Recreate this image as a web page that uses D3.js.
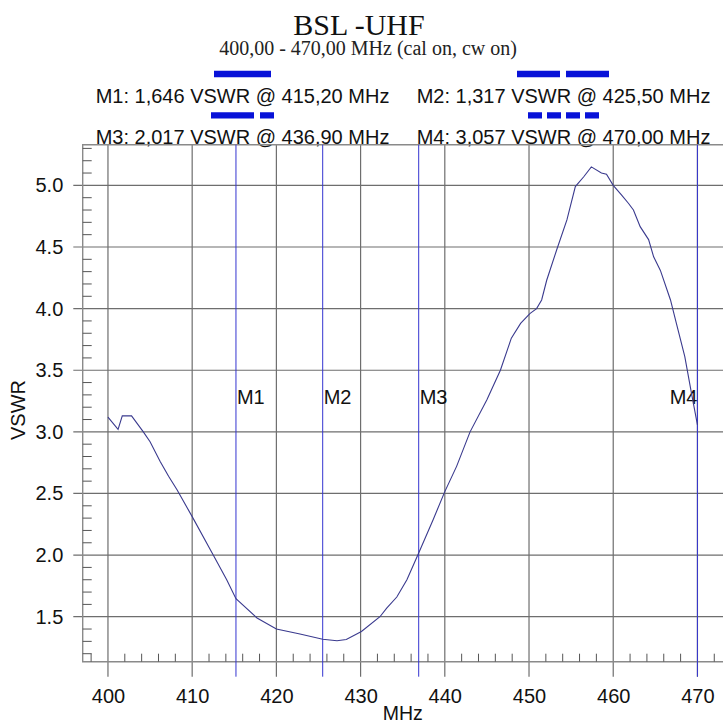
<!DOCTYPE html>
<html>
<head>
<meta charset="utf-8">
<script src="https://cdn.jsdelivr.net/npm/d3@7/dist/d3.min.js"></script>
<style>
  body { margin: 0; background: #fff; }
  svg { display: block; }
</style>
</head>
<body>
<div id="chart"></div>
<script>
// Measured trace (MHz / VSWR)
const freqs = [400.0, 401.2, 401.7, 402.8, 404.2, 405.0, 406.2, 407.2, 408.2, 410.1,
  412.5, 414.1, 415.2, 417.7, 420.0, 422.8, 425.5, 427.2, 428.3, 430.1,
  432.3, 433.1, 434.3, 435.5, 436.9, 438.6, 440.0, 441.4, 443.0, 445.0,
  446.6, 447.9, 449.0, 450.1, 450.9, 451.5, 452.1, 453.3, 454.5, 455.5,
  456.5, 457.4, 458.6, 459.2, 460.0, 461.0, 461.8, 462.4, 463.2, 464.2,
  464.8, 465.6, 466.8, 467.5, 468.5, 469.3, 470.0];
const vswr = [3.12, 3.02, 3.13, 3.13, 3.00, 2.92, 2.76, 2.64, 2.53, 2.30,
  2.00, 1.80, 1.646, 1.49, 1.40, 1.36, 1.317, 1.305, 1.315, 1.38,
  1.50, 1.57, 1.66, 1.80, 2.017, 2.285, 2.515, 2.72, 3.00, 3.26,
  3.50, 3.76, 3.88, 3.96, 4.00, 4.07, 4.23, 4.48, 4.72, 4.99,
  5.07, 5.15, 5.10, 5.09, 5.00, 4.92, 4.855, 4.80, 4.665, 4.56,
  4.42, 4.31, 4.07, 3.88, 3.61, 3.31, 3.057];

// Markers
const markerNames = ["M1", "M2", "M3", "M4"];
const markerFreqs = [415.20, 425.50, 436.90, 470.00];
const markerValues = [1.646, 1.317, 2.017, 3.057];

// Tick labels
const xTicks = [400, 410, 420, 430, 440, 450, 460, 470];
const yTicks = [1.5, 2.0, 2.5, 3.0, 3.5, 4.0, 4.5, 5.0];

const titleText = "BSL -UHF";
const subtitleText = "400,00 - 470,00 MHz (cal on, cw on)";

// Layout
const W = 723, H = 724;
const plot = { left: 82.7, right: 722.7, top: 144.7, bottom: 661.7 };
const gridColor = "#6e6e6e";
const markerBlue = "#3434d0";
const swatchBlue = "#0812d8";
const sans = "'Liberation Sans', Arial, sans-serif";
const serif = "'Liberation Serif', 'Times New Roman', serif";

// legend swatch styles, one per marker
const swatchStyle = [
  { width: 57, dash: null },
  { width: 93, dash: "43,6" },
  { width: 63, dash: "43,6,14,6" },
  { width: 71, dash: "14,5" }
];

const svg = d3.select("#chart").append("svg")
  .attr("width", W)
  .attr("height", H)
  .attr("viewBox", `0 0 ${W} ${H}`);

const x = d3.scaleLinear().domain([397, 473]).range([plot.left, plot.right]);
const y = d3.scaleLinear().domain([1.135, 5.33]).range([plot.bottom, plot.top]);

// Title block
svg.append("text")
  .attr("x", 359).attr("y", 35)
  .attr("text-anchor", "middle")
  .style("font-family", serif).style("font-size", "30px")
  .style("fill", "#111")
  .text(titleText);

svg.append("text")
  .attr("x", 368).attr("y", 55)
  .attr("text-anchor", "middle")
  .style("font-family", serif).style("font-size", "20px")
  .style("fill", "#222")
  .text(subtitleText);

// Legend (two columns x two rows)
const comma = s => s.replace(".", ",");
const colCenters = [242.5, 563.5];
const rowBase = [102.7, 143.5];
const rowSwatch = [74, 115.3];

markerNames.forEach((name, i) => {
  const cx = colCenters[i % 2];
  const row = Math.floor(i / 2);
  const sw = swatchStyle[i];
  svg.append("line")
    .attr("x1", cx - sw.width / 2).attr("x2", cx + sw.width / 2)
    .attr("y1", rowSwatch[row]).attr("y2", rowSwatch[row])
    .attr("stroke", swatchBlue)
    .attr("stroke-width", 6.3)
    .attr("stroke-dasharray", sw.dash);
  svg.append("text")
    .attr("x", cx).attr("y", rowBase[row])
    .attr("text-anchor", "middle")
    .style("font-family", sans).style("font-size", "20px")
    .style("fill", "#111")
    .text(`${name}: ${comma(d3.format(".3f")(markerValues[i]))} VSWR @ ${comma(d3.format(".2f")(markerFreqs[i]))} MHz`);
});

// Grid lines
svg.append("g").selectAll("line")
  .data(yTicks).join("line")
  .attr("x1", plot.left - 9.4).attr("x2", plot.right + 1)
  .attr("y1", d => y(d)).attr("y2", d => y(d))
  .attr("stroke", gridColor).attr("stroke-width", 1.2);

svg.append("g").selectAll("line")
  .data(xTicks).join("line")
  .attr("x1", d => x(d)).attr("x2", d => x(d))
  .attr("y1", plot.top).attr("y2", plot.bottom + 15)
  .attr("stroke", gridColor).attr("stroke-width", 1.2);

// Frame: top, left, bottom
svg.append("path")
  .attr("d", `M${plot.right + 1},${plot.top}H${plot.left}V${plot.bottom}H${plot.right + 1}`)
  .attr("fill", "none")
  .attr("stroke", "#8a8a8a")
  .attr("stroke-width", 1.4);

// Minor ticks
const xMinor = d3.range(398, 473, 2).filter(v => v % 10 !== 0);
svg.append("g").selectAll("line")
  .data(xMinor).join("line")
  .attr("x1", d => x(d)).attr("x2", d => x(d))
  .attr("y1", plot.bottom).attr("y2", plot.bottom - 8)
  .attr("stroke", "#555").attr("stroke-width", 1);

const yMinor = d3.range(12, 54).filter(v => v % 5 !== 0).map(v => v / 10);
svg.append("g").selectAll("line")
  .data(yMinor).join("line")
  .attr("x1", plot.left).attr("x2", plot.left + 9)
  .attr("y1", d => y(d)).attr("y2", d => y(d))
  .attr("stroke", "#555").attr("stroke-width", 1);

// Axis labels via d3 axes (lines hidden, grid drawn above)
const xAxis = svg.append("g")
  .attr("transform", `translate(0,${plot.bottom})`)
  .call(d3.axisBottom(x).tickValues(xTicks).tickFormat(d3.format("d")).tickSize(15).tickPadding(12));
xAxis.select(".domain").remove();
xAxis.selectAll("line").remove();
xAxis.selectAll("text")
  .style("font-family", sans).style("font-size", "20px").style("fill", "#111");

const yAxis = svg.append("g")
  .attr("transform", `translate(${plot.left},0)`)
  .call(d3.axisLeft(y).tickValues(yTicks).tickFormat(d3.format(".1f")).tickSize(9.4).tickPadding(10));
yAxis.select(".domain").remove();
yAxis.selectAll("line").remove();
yAxis.selectAll("text")
  .style("font-family", sans).style("font-size", "20px").style("fill", "#111");

svg.append("text")
  .attr("x", (plot.left + plot.right) / 2).attr("y", 720)
  .attr("text-anchor", "middle")
  .style("font-family", sans).style("font-size", "19.5px").style("fill", "#111")
  .text("MHz");

svg.append("text")
  .attr("transform", "translate(25,410) rotate(-90)")
  .attr("text-anchor", "middle")
  .style("font-family", sans).style("font-size", "20px").style("fill", "#111")
  .text("VSWR");

// Marker lines and labels
markerFreqs.forEach((f, i) => {
  const mx = x(f);
  svg.append("line")
    .attr("x1", mx).attr("x2", mx)
    .attr("y1", plot.top).attr("y2", plot.bottom + 15)
    .attr("stroke", markerBlue).attr("stroke-width", 1);
  const flip = mx + 32 > W;
  svg.append("text")
    .attr("x", flip ? mx : mx + 1)
    .attr("y", 404)
    .attr("text-anchor", flip ? "end" : "start")
    .style("font-family", sans).style("font-size", "20px").style("fill", "#111")
    .text(markerNames[i]);
});

// Trace
const line = d3.line()
  .x(d => x(d[0]))
  .y(d => y(d[1]));

svg.append("path")
  .datum(d3.zip(freqs, vswr))
  .attr("d", line)
  .attr("fill", "none")
  .attr("stroke", "#3a3a8e")
  .attr("stroke-width", 1.1);
</script>
</body>
</html>
